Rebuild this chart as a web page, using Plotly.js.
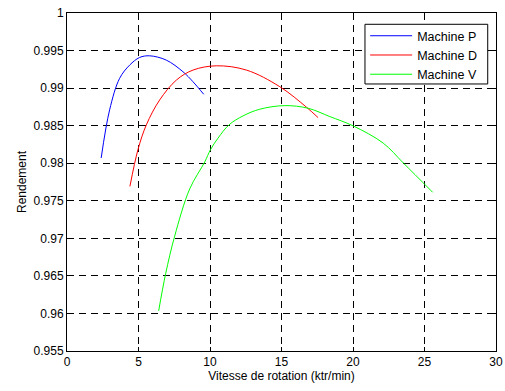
<!DOCTYPE html>
<html><head><meta charset="utf-8">
<script src="https://cdn.plot.ly/plotly-3.0.1.min.js"></script>
<style>html,body{margin:0;padding:0;background:#fff;}#chart{width:505px;height:391px;}</style>
</head><body><div id="chart"></div>
<script>
const pX = [2.39, 2.98, 3.68, 4.38, 5.08, 5.78, 6.94, 8.11, 8.81, 9.56];
const pY = [0.9807, 0.9871, 0.9913, 0.99306, 0.99408, 0.9943, 0.99373, 0.99218, 0.99085, 0.98918];
const dX = [4.40, 4.96, 5.55, 6.48, 7.65, 8.81, 10.45, 12.55, 14.88, 16.75, 17.56];
const dY = [0.97692, 0.98179, 0.98511, 0.98842, 0.99107, 0.9924, 0.99297, 0.9924, 0.99019, 0.98745, 0.98607];
const vX = [6.41, 6.90, 7.53, 8.58, 9.63, 10.03, 10.56, 11.33, 12.31, 13.48, 15.23, 16.86, 18.38, 20.01, 22.11, 23.52, 25.57];
const vY = [0.96034, 0.9653, 0.97029, 0.97658, 0.98016, 0.98179, 0.98334, 0.98511, 0.9863, 0.98719, 0.98767, 0.98732, 0.98621, 0.98497, 0.98268, 0.98003, 0.97613];
const names = ['Machine P', 'Machine D', 'Machine V'];
const xTicks = [0, 5, 10, 15, 20, 25, 30];
const yTicks = [0.955, 0.96, 0.965, 0.97, 0.975, 0.98, 0.985, 0.99, 0.995, 1];
const yTickText = ['0.955', '0.96', '0.965', '0.97', '0.975', '0.98', '0.985', '0.99', '0.995', '1'];

const FONT = 'Liberation Sans, Arial, sans-serif';
const traces = [
  {x: pX, y: pY, name: names[0], mode: 'lines', line: {color: '#0000ff', width: 1, shape: 'spline'}},
  {x: dX, y: dY, name: names[1], mode: 'lines', line: {color: '#ff0000', width: 1, shape: 'spline'}},
  {x: vX, y: vY, name: names[2], mode: 'lines', line: {color: '#00ff00', width: 1, shape: 'spline'}}
];
const axCommon = {
  showgrid: true, gridcolor: '#000', gridwidth: 1, griddash: '7px,5px',
  zeroline: false, showline: true, linecolor: '#000', linewidth: 1, mirror: 'ticks',
  ticks: 'inside', ticklen: 4, tickcolor: '#000',
  tickfont: {family: FONT, size: 12, color: '#000'}
};
const layout = {
  width: 505, height: 391,
  margin: {l: 67, r: 9, t: 13, b: 40},
  paper_bgcolor: '#fff', plot_bgcolor: '#fff',
  showlegend: true,
  legend: {x: 0.695, y: 0.976, xanchor: 'left', yanchor: 'top', bgcolor: 'rgba(0,0,0,0)', borderwidth: 0,
    itemwidth: 42,
    font: {family: FONT, size: 12.5, color: '#000'}, tracegroupgap: 0},
  shapes: [{type: 'rect', xref: 'paper', yref: 'paper', x0: 0.6946, x1: 0.9807, y0: 0.790, y1: 0.9666,
    line: {color: '#000', width: 1}, fillcolor: '#fff', layer: 'above'}],
  xaxis: Object.assign({}, axCommon, {range: [0, 30], tickvals: xTicks, ticktext: xTicks.map(String),
    title: {text: 'Vitesse de rotation (ktr/min)', standoff: 3, font: {family: FONT, size: 12, color: '#000'}}}),
  yaxis: Object.assign({}, axCommon, {range: [0.955, 1], tickvals: yTicks, ticktext: yTickText,
    title: {text: 'Rendement', standoff: 4, font: {family: FONT, size: 12, color: '#000'}}})
};
Plotly.newPlot('chart', traces, layout, {displayModeBar: false, staticPlot: true});
</script></body></html>
